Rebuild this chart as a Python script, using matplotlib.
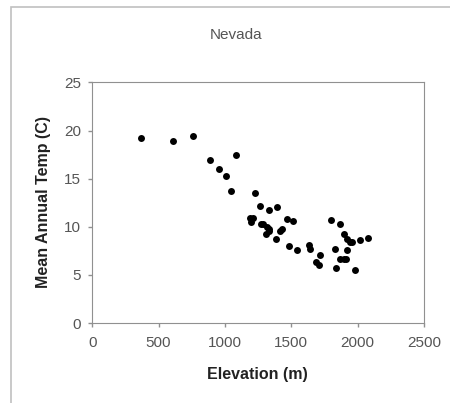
import numpy as np
import matplotlib.pyplot as plt
from matplotlib.patches import Rectangle

plt.rcParams['font.family'] = ['Liberation Sans', 'DejaVu Sans']

# elevation (m) and mean annual temperature (C) of Nevada stations
elevation = [365, 605, 762, 887, 957, 1010, 1045, 1082,
             1225, 1265, 1332, 1390,
             1190, 1210, 1200, 1270, 1290, 1320, 1332, 1308, 1332,
             1382, 1415, 1432, 1465, 1512, 1482, 1545,
             1632, 1645, 1715, 1690, 1712,
             1802, 1865, 1900, 1920, 1940, 1958, 2015, 2077,
             1827, 1920, 1870, 1895, 1915, 1837, 1977]
temp = [19.2, 18.9, 19.4, 16.9, 16.0, 15.3, 13.7, 17.5,
        13.5, 12.2, 11.7, 12.1,
        10.9, 10.9, 10.5, 10.3, 10.3, 10.0, 9.8, 9.3, 9.6,
        8.7, 9.6, 9.8, 10.8, 10.65, 8.05, 7.6,
        8.1, 7.7, 7.1, 6.3, 6.0,
        10.75, 10.3, 9.2, 8.75, 8.4, 8.4, 8.6, 8.8,
        7.7, 7.6, 6.7, 6.7, 6.7, 5.7, 5.5]

xticks = [0, 500, 1000, 1500, 2000, 2500]
yticks = [0, 5, 10, 15, 20, 25]

fig = plt.figure(figsize=(4.5, 4.03), dpi=100)
ax = fig.add_axes([0.205, 0.1985, 0.737, 0.597])

ax.scatter(elevation, temp, s=25, color='black', zorder=3, linewidths=0)

ax.set_xlim(0, 2500)
ax.set_ylim(0, 25)
ax.set_xticks(xticks)
ax.set_yticks(yticks)
for s in ax.spines.values():
    s.set_color('#909090')
ax.tick_params(colors='#909090', labelcolor='#555555', labelsize=11,
               length=3, width=1, direction='out')
ax.tick_params(axis='x', pad=6)
ax.tick_params(axis='y', pad=5)

fig.text(0.524, 0.913, 'Nevada', ha='center', va='center', fontsize=11, color='#555555')
fig.text(0.571, 0.07, 'Elevation (m)', ha='center', va='center',
         fontsize=11.5, fontweight='bold', color='#222222')
fig.text(0.096, 0.499, 'Mean Annual Temp (C)', ha='center', va='center',
         rotation=90, fontsize=11.5, fontweight='bold', color='#222222')

# chart area frame
fig.patches.append(Rectangle((10.5 / 450, -0.05), 1.1, 1 - 7 / 403 + 0.05,
                             transform=fig.transFigure, fill=False,
                             edgecolor='#c0c0c0', linewidth=1.2))

fig.savefig('out.png', dpi=100)
